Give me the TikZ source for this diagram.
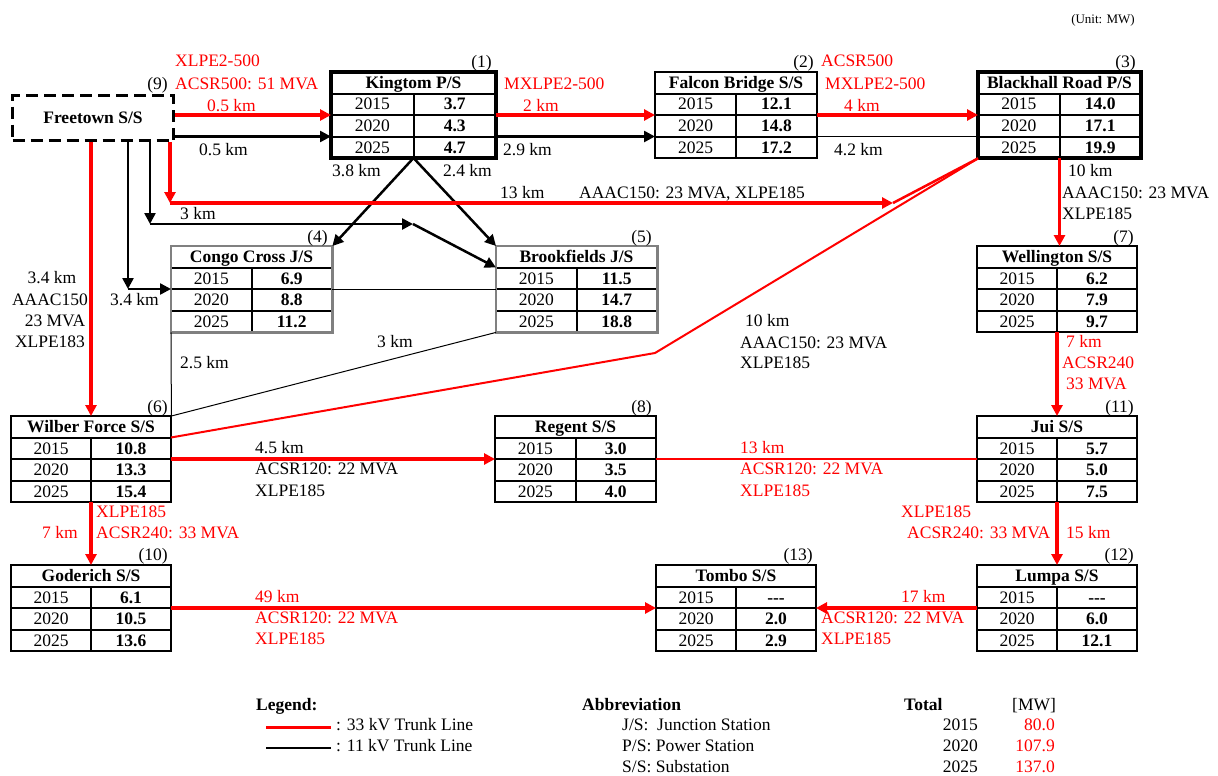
\documentclass[tikz,border=0pt]{standalone}
\usepackage{fontspec}
\setmainfont{Liberation Serif}
\usetikzlibrary{arrows.meta,calc}

\tikzset{
  every node/.style={font=\fontsize{17.5}{21.5}\selectfont, inner sep=0pt, text height=11.5pt, text depth=0pt},
  lb/.style={anchor=west},
  rl/.style={anchor=west, text=red},
  nl/.style={anchor=east},
  red33/.style={draw=red, line width=3.5pt},
  redthin/.style={draw=red, line width=2pt},
  blk/.style={draw=black, line width=2.5pt},
  blkthin/.style={draw=black, line width=1pt},
  tip/.style={-{Triangle[length=11pt,width=11pt]}},
  psborder/.style={draw=black, line width=4pt},
  ssborder/.style={draw=black, line width=2pt},
  jsborder/.style={draw=gray, line width=2.5pt},
  gridline/.style={draw=black, line width=2pt},
}

\newcommand{\stbox}[9]{%
  \node[minimum width=#4pt, minimum height=86pt, anchor=north west] (#1) at (#2,#3) {};
  \coordinate (#1-wt) at (#2,#3+21.5);
  \coordinate (#1-et) at (#2+#4,#3+21.5);
  \coordinate (#1-w1) at (#2,#3+43);
  \coordinate (#1-e1) at (#2+#4,#3+43);
  \coordinate (#1-w2) at (#2,#3+64.5);
  \coordinate (#1-e2) at (#2+#4,#3+64.5);
  \coordinate (#1-mt) at (#2+#4/2,#3+21.5);
  \coordinate (#1-td) at (#2+#4/2,#3);
  \coordinate (#1-bd) at (#2+#4/2,#3+86);
  \draw[gridline] (#1-wt) -- (#1-et) (#1-w1) -- (#1-e1) (#1-w2) -- (#1-e2) (#1-mt) -- (#1-bd);
  \draw[#9] (#1.north west) rectangle (#1.south east);
  \node (#1-t) at (#2+#4/2,#3+10.75) {\bfseries #5};
  \node (#1-y1) at (#2+#4/4,#3+32.25) {2015};
  \node (#1-v1) at (#2+3*#4/4,#3+32.25) {\bfseries #6};
  \node (#1-y2) at (#2+#4/4,#3+53.75) {2020};
  \node (#1-v2) at (#2+3*#4/4,#3+53.75) {\bfseries #7};
  \node (#1-y3) at (#2+#4/4,#3+75.25) {2025};
  \node (#1-v3) at (#2+3*#4/4,#3+75.25) {\bfseries #8};
}

\begin{document}
\begin{tikzpicture}[x=1pt,y=-1pt]
\useasboundingbox (0,0) rectangle (1218,776);

\node[anchor=east, font=\fontsize{13}{15}\selectfont] (unit) at (1135,18) {(Unit: MW)};

% stations
\node[draw, line width=3pt, dash pattern=on 12pt off 6pt, minimum width=161pt, minimum height=45pt, anchor=north west, font=\fontsize{17.5}{21.5}\selectfont\bfseries] (ft) at (11,94) {Freetown S/S};
\stbox{kt}{331}{72}{165}{Kingtom P/S}{3.7}{4.3}{4.7}{psborder}
\stbox{fb}{655}{72}{162}{Falcon Bridge S/S}{12.1}{14.8}{17.2}{ssborder}
\stbox{bh}{978}{72}{163}{Blackhall Road P/S}{14.0}{17.1}{19.9}{psborder}
\stbox{cc}{171}{246}{161}{Congo Cross J/S}{6.9}{8.8}{11.2}{jsborder}
\stbox{bf}{496}{246}{161}{Brookfields J/S}{11.5}{14.7}{18.8}{jsborder}
\stbox{wl}{977}{246}{160}{Wellington S/S}{6.2}{7.9}{9.7}{ssborder}
\stbox{wf}{11}{416}{160}{Wilber Force S/S}{10.8}{13.3}{15.4}{ssborder}
\stbox{rg}{495}{416}{161}{Regent S/S}{3.0}{3.5}{4.0}{ssborder}
\stbox{ju}{977}{416}{160}{Jui S/S}{5.7}{5.0}{7.5}{ssborder}
\stbox{gd}{11}{565}{160}{Goderich S/S}{6.1}{10.5}{13.6}{ssborder}
\stbox{tb}{656}{565}{160}{Tombo S/S}{-{}-{}-}{2.0}{2.9}{ssborder}
\stbox{lu}{977}{565}{160}{Lumpa S/S}{-{}-{}-}{6.0}{12.1}{ssborder}

% numbers
\node[nl] (n1) at (492,62) {(1)};
\node[nl] (n2) at (814,62) {(2)};
\node[nl] (n3) at (1136,62) {(3)};
\node[nl] (n4) at (328,237) {(4)};
\node[nl] (n5) at (652,237) {(5)};
\node[nl] (n6) at (168,407) {(6)};
\node[nl] (n7) at (1134,237) {(7)};
\node[nl] (n8) at (652,407) {(8)};
\node[nl] (n9) at (168,84) {(9)};
\node[nl] (n10) at (168,555) {(10)};
\node[nl] (n11) at (1134,407) {(11)};
\node[nl] (n12) at (1134,555) {(12)};
\node[nl] (n13) at (813,555) {(13)};

% helper coordinates
\coordinate (c13a) at (170,203);
\coordinate (c13b) at (893,203);
\coordinate (c3a) at (150,224);
\coordinate (c3b) at (413,224);
\coordinate (c34) at (128,289);
\coordinate (cwb) at (655,353);

% thin 11 kV lines
\draw[blkthin] (fb-e2) -- (bh-w2);
\draw[blkthin] (cc-e1) -- (bf-w1);
\draw[blkthin] (cc.south west) -- (wf.north east);
\draw[blkthin] (bf.south west) -- (wf.north east);

% black 11 kV arrows
\draw[blk,tip] (ft.east |- kt-w2) -- (kt-w2);
\draw[blk,tip] (kt-e2) -- (fb-w2);
\draw[blk,tip] (c3a |- ft.south) -- (c3a);
\draw[blk,tip] (c3a) -- (c3b);
\draw[blk,tip] (c3b) -- (bf-wt);
\draw[blk,tip] (c34 |- ft.south) -- (c34);
\draw[blk,tip] (c34) -- (cc-w1);
\draw[blk,tip] (kt-bd) -- (cc.north east);
\draw[blk,tip] (kt-bd) -- (bf.north west);

% red 33 kV
\draw[red33,tip] (ft.east |- kt-w1) -- (kt-w1);
\draw[red33,tip] (kt-e1) -- (fb-w1);
\draw[red33,tip] (fb-e1) -- (bh-w1);
\draw[red33,tip] (c13a |- ft.south) -- (c13a);
\draw[red33,tip] (c13a) -- (c13b);
\draw[redthin, line width=2.5pt] (c13b) -- (bh.south west);
\draw[red33,tip] (wf-td |- ft.south) -- (wf-td);
\draw[redthin] (wf-et) -- (cwb) -- (bh.south west);
\draw[red33,tip] (bh-bd) -- (bh-bd |- wl.north);
\draw[red33,tip] (wl-bd) -- (ju-td);
\draw[red33,tip] (ju-bd) -- (lu-td);
\draw[red33,tip] (lu-w1) -- (tb-e1);
\draw[red33,tip] (gd-e1) -- (tb-w1);
\draw[red33,tip] (wf-bd) -- (gd-td);
\draw[red33,tip] (wf-e1) -- (rg-w1);
\draw[redthin] (rg-e1) -- (ju-w1);

% labels
\node[rl] (l01) at (175,61) {XLPE2-500};
\node[rl] (l02) at (175,84) {ACSR500: 51 MVA};
\node[rl] (l03) at (207,106) {0.5 km};
\node[lb] (l04) at (199,150) {0.5 km};
\node[lb] (l05) at (180,214) {3 km};
\node[rl] (l06) at (504,84) {MXLPE2-500};
\node[rl] (l07) at (523,106) {2 km};
\node[lb] (l08) at (503,150) {2.9 km};
\node[lb] (l09) at (332,171) {3.8 km};
\node[lb] (l10) at (443,171) {2.4 km};
\node[lb] (l11) at (500,193) {13 km};
\node[lb] (l12) at (579,193) {AAAC150: 23 MVA, XLPE185};
\node[rl] (l13) at (821,61) {ACSR500};
\node[rl] (l14) at (825,84) {MXLPE2-500};
\node[rl] (l15) at (844,106) {4 km};
\node[lb] (l16) at (834,150) {4.2 km};
\node[lb] (l17) at (1068,171) {10 km};
\node[lb] (l18) at (1062,193) {AAAC150: 23 MVA};
\node[lb] (l19) at (1062,214) {XLPE185};
\node (l20a) at (52,278) {3.4 km};
\node (l20b) at (50,300) {AAAC150};
\node (l20c) at (55,321) {23 MVA};
\node (l20d) at (50,342) {XLPE183};
\node[lb] (l21) at (110,300) {3.4 km};
\node[lb] (l22) at (180,363) {2.5 km};
\node[lb] (l23) at (377,342) {3 km};
\node[lb] (l24) at (745,321) {10 km};
\node[lb] (l25) at (740,343) {AAAC150: 23 MVA};
\node[lb] (l26) at (740,363) {XLPE185};
\node[rl] (l27) at (1066,342) {7 km};
\node[rl] (l28) at (1062,363) {ACSR240};
\node[rl] (l29) at (1066,384) {33 MVA};
\node[rl] (l30) at (901,512) {XLPE185};
\node[rl] (l31) at (907,533) {ACSR240: 33 MVA};
\node[rl] (l32) at (1066,533) {15 km};
\node[lb] (l33) at (255,448) {4.5 km};
\node[lb] (l34) at (255,469) {ACSR120: 22 MVA};
\node[lb] (l35) at (255,491) {XLPE185};
\node[rl] (l36) at (96,512) {XLPE185};
\node[rl] (l37) at (96,533) {ACSR240: 33 MVA};
\node[rl] (l38) at (42,533) {7 km};
\node[rl] (l39) at (255,597) {49 km};
\node[rl] (l40) at (255,618) {ACSR120: 22 MVA};
\node[rl] (l41) at (255,639) {XLPE185};
\node[rl] (l42) at (740,448) {13 km};
\node[rl] (l43) at (740,469) {ACSR120: 22 MVA};
\node[rl] (l44) at (740,491) {XLPE185};
\node[rl] (l45) at (901,597) {17 km};
\node[rl] (l46) at (821,618) {ACSR120: 22 MVA};
\node[rl] (l47) at (821,639) {XLPE185};

% legend
\node[lb, font=\fontsize{17.5}{21.5}\selectfont\bfseries] (lg) at (256,705) {Legend:};
\coordinate (lr1) at (266,727); \coordinate (lr2) at (331,727);
\coordinate (lk1) at (266,748); \coordinate (lk2) at (331,748);
\draw[draw=red, line width=3pt] (lr1) -- (lr2);
\draw[draw=black, line width=1.5pt] (lk1) -- (lk2);
\node[lb] (lg1) at (336,725) {: 33 kV Trunk Line};
\node[lb] (lg2) at (336,746) {: 11 kV Trunk Line};
\node[lb, font=\fontsize{17.5}{21.5}\selectfont\bfseries] (ab) at (582,705) {Abbreviation};
\node[lb] (ab1) at (622,725) {J/S:\ \ Junction Station};
\node[lb] (ab2) at (622,746) {P/S: Power Station};
\node[lb] (ab3) at (622,767) {S/S: Substation};
\node[lb, font=\fontsize{17.5}{21.5}\selectfont\bfseries] (tt) at (904,705) {Total};
\node[lb] (mw) at (1012,705) {[MW]};
\node[anchor=east] (ty1) at (978,725) {2015};
\node[anchor=east] (ty2) at (978,746) {2020};
\node[anchor=east] (ty3) at (978,767) {2025};
\node[anchor=east, text=red] (tv1) at (1055,725) {80.0};
\node[anchor=east, text=red] (tv2) at (1055,746) {107.9};
\node[anchor=east, text=red] (tv3) at (1055,767) {137.0};
\end{tikzpicture}
\end{document}
